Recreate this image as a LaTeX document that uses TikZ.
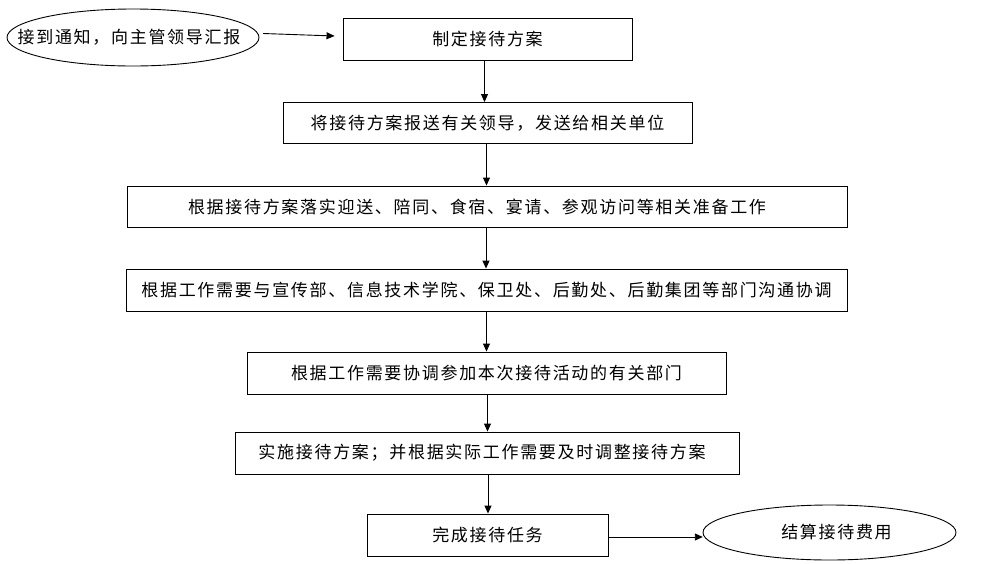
\documentclass[tikz,border=0pt]{standalone}
\usepackage{fontspec}
\newfontfamily\cjk[LetterSpace=10]{Noto Sans CJK SC}
\usetikzlibrary{shapes.geometric,arrows.meta}
\begin{document}
\begin{tikzpicture}[x=1pt,y=-1pt,
  every node/.style={font=\cjk\fontsize{17}{20}\selectfont, inner sep=0pt},
  stepbox/.style={draw, line width=0.9pt, rectangle},
  endpt/.style={rectangle},
  oval/.style={draw, line width=0.9pt},
  arr/.style={line width=0.9pt, -{Triangle[length=8pt,width=7pt]}}]
\useasboundingbox (0,0) rectangle (994,563);
\node[endpt, minimum width=252pt, minimum height=57pt] (e1) at (133,37.5) {\hspace*{-8pt}接到通知，向主管领导汇报};
\draw[oval] (e1.center) ellipse [x radius=126pt, y radius=28.5pt];
\node[stepbox, minimum width=289pt, minimum height=42pt] (b1) at (487.5,39) {制定接待方案};
\node[stepbox, minimum width=409pt, minimum height=41pt] (b2) at (487.5,123) {将接待方案报送有关领导，发送给相关单位};
\node[stepbox, minimum width=720pt, minimum height=41pt] (b3) at (487,206.5) {\hspace*{-20pt}根据接待方案落实迎送、陪同、食宿、宴请、参观访问等相关准备工作};
\node[stepbox, minimum width=721pt, minimum height=42pt] (b4) at (486.5,290) {\raisebox{-7pt}{根据工作需要与宣传部、信息技术学院、保卫处、后勤处、后勤集团等部门沟通协调}};
\node[stepbox, minimum width=479pt, minimum height=42pt] (b5) at (486.5,373) {根据工作需要协调参加本次接待活动的有关部门};
\node[stepbox, minimum width=504pt, minimum height=42pt] (b6) at (487,453) {\hspace*{-10pt}实施接待方案；并根据实际工作需要及时调整接待方案};
\node[stepbox, minimum width=241pt, minimum height=42pt] (b7) at (487.5,535) {完成接待任务};
\node[endpt, minimum width=253pt, minimum height=55pt] (e2) at (829.5,532.5) {\hspace*{14pt}结算接待费用};
\draw[oval] (e2.center) ellipse [x radius=126.5pt, y radius=27.5pt];
\draw[arr] ([xshift=4pt,yshift=4pt]e1.east) -- ([xshift=-8pt,yshift=3pt]b1.west);
\draw[arr] ([xshift=-3pt]b1.south) -- ([xshift=-3pt]b1.south |- b2.north);
\draw[arr] ([xshift=-1pt]b2.south) -- ([xshift=-1pt]b2.south |- b3.north);
\draw[arr] ([xshift=-1pt]b3.south) -- ([xshift=-1pt]b3.south |- b4.north);
\draw[arr] (b4.south) -- (b4.south |- b5.north);
\draw[arr] ([xshift=1pt]b5.south) -- ([xshift=1pt]b5.south |- b6.north);
\draw[arr] ([xshift=1pt]b6.south) -- ([xshift=1pt]b6.south |- b7.north);
\draw[arr] ([yshift=-2pt]b7.east) -- ([yshift=-2pt]b7.east -| e2.west);
\end{tikzpicture}
\end{document}
